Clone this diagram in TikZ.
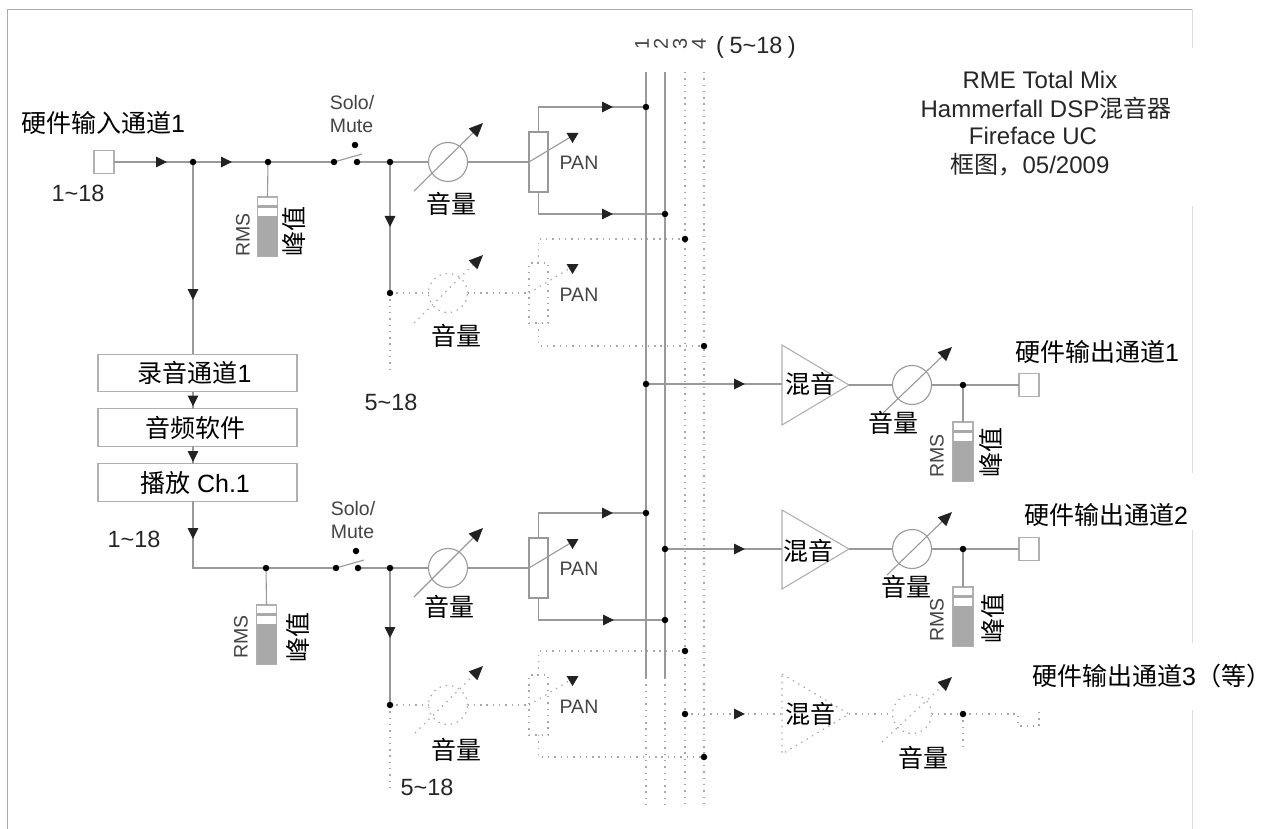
\documentclass[tikz,border=0pt]{standalone}
\usepackage{fontspec}
\setmainfont{Liberation Sans}
\newfontfamily\cjk{Noto Sans CJK SC}
\usetikzlibrary{arrows.meta,decorations.markings,calc}
\pgfdeclarelayer{top}
\pgfsetlayers{main,top}
\definecolor{wiregray}{HTML}{999999}
\definecolor{dotgray}{HTML}{A8A8A8}
\definecolor{boxgray}{HTML}{B0B0B0}
\definecolor{framegray}{HTML}{ABABAB}
\definecolor{framelight}{HTML}{DDDDDD}
\definecolor{metergray}{HTML}{A9A9A9}
\definecolor{labelgray}{HTML}{444444}
\definecolor{tipdark}{HTML}{222222}
\tikzset{
  wire/.style={draw=wiregray,line width=1.1pt},
  dotwire/.style={draw=dotgray,line width=1.2pt,dash pattern=on 1.4pt off 4.9pt},
  jdot/.style={circle,fill=black,inner sep=0pt,outer sep=0pt,minimum size=6.5pt},
  midtip/.style={postaction={decorate,decoration={markings,mark=at position #1 with {\arrow{Triangle[length=11pt,width=10.5pt,color=tipdark]}}}}},
  dialtip/.style={-{Triangle[length=14pt,width=12pt,color=tipdark]}},
  portbox/.style={draw=boxgray,line width=1.1pt,fill=white,minimum width=20pt,minimum height=23pt,inner sep=0pt,outer sep=0pt},
  procbox/.style={draw=boxgray,line width=1.1pt,fill=white,minimum width=199pt,minimum height=37.5pt,inner sep=0pt,outer sep=0pt,font=\fontsize{25}{25}\selectfont},
  volring/.style={circle,minimum size=39pt,inner sep=0pt,outer sep=0pt},
  panbox/.style={minimum width=19pt,minimum height=60pt,inner sep=0pt,outer sep=0pt},
  meterbox/.style={draw=boxgray,line width=1.1pt,fill=white,minimum width=20pt,minimum height=59pt,inner sep=0pt,outer sep=0pt,anchor=north},
  cjklabel/.style={inner sep=0pt,font=\fontsize{25}{25}\selectfont\cjk,text=black},
  txtlabel/.style={inner sep=0pt,font=\fontsize{23.5}{24}\selectfont,text=black!85},
  smalllabel/.style={inner sep=0pt,font=\fontsize{19.5}{24}\selectfont,text=labelgray,align=left},
  titlelabel/.style={inner sep=0pt,font=\fontsize{24}{28}\selectfont,text=black!85},
}
% name, centre x, centre y, wire style, dial start offset, dial end offset
\newcommand{\volknob}[6]{%
  \node[volring,#4] (#1) at (#2,#3) {};
  \coordinate (#1s) at ($(#1.center)+(#5)$);
  \coordinate (#1e) at ($(#1.center)+(#6)$);
  \draw[#4,dialtip] (#1s) -- (#1e);}
% name, centre x, centre y, wire style
\newcommand{\panpot}[4]{%
  \node[panbox,#4] (#1) at (#2,#3) {};
  \coordinate (#1w) at ($(#1.center)+(32,-25)$);
  \draw[#4] (#1.west) -- (#1w);
  \coordinate (#1a) at ($(#1.center)+(28,-29)$);
  \coordinate (#1b) at ($(#1.center)+(40,-29)$);
  \coordinate (#1c) at ($(#1.center)+(34,-19)$);
  \fill[tipdark] (#1a) -- (#1b) -- (#1c) -- cycle;}
% name, centre x, top y
\newcommand{\levelmeter}[3]{%
  \node[meterbox] (#1) at (#2,#3) {};
  \fill[metergray] ($(#1.north west)+(0,8)$) rectangle ($(#1.north east)+(0,11)$);
  \fill[metergray] ($(#1.north west)+(0,19)$) rectangle (#1.south east);}
\begin{document}
\begin{tikzpicture}[x=1pt,y=-1pt]
\useasboundingbox (0,0) rectangle (1269,829);
\fill[white] (0,0) rectangle (1269,829);

% frame
\coordinate (fbl) at (7.5,829); \coordinate (ftl) at (7.5,9.5); \coordinate (ftr) at (1192,9.5);
\coordinate (fr1) at (1192,48); \coordinate (fr2) at (1192,206); \coordinate (fr3) at (1192,473);
\coordinate (fr4) at (1192,530); \coordinate (fr5) at (1192,643); \coordinate (fr6) at (1192,710); \coordinate (fr7) at (1192,829);
\draw[framegray,line width=1.3pt] (fbl) -- (ftl) -- (ftr);
\draw[framelight,line width=1pt] (ftr) -- (fr1) (fr2) -- (fr3) (fr4) -- (fr5) (fr6) -- (fr7);

% bus
\foreach \n/\x in {1/646,2/665}{
  \coordinate (bus\n t) at (\x,72); \coordinate (bus\n m) at (\x,678); \coordinate (bus\n b) at (\x,807);
  \draw[wire] (bus\n t) -- (bus\n m);
  \draw[dotwire] (bus\n m) -- (bus\n b);}
\foreach \n/\x in {3/685,4/704}{
  \coordinate (bus\n t) at (\x,72); \coordinate (bus\n b) at (\x,807);
  \draw[dotwire] (bus\n t) -- (bus\n b);}
\foreach \n/\x in {1/642,2/661,3/680,4/699}{
  \node[inner sep=0pt,rotate=90,font=\fontsize{20}{20}\selectfont,text=labelgray] (busno\n) at (\x,44) {\n};}
\node[txtlabel] (busmore) at (756,47) {(\hspace{5.5pt}5\textasciitilde18\hspace{5.5pt})};

% junctions
\begin{pgfonlayer}{top}
\foreach \nm/\x/\y in {j1/193/162,j2/268/162,sa/334/162,sb/357/162,sc/355/145,j3/390/162,j4/390/293,
  j5/266/568,ta/336/568,tb/358/568,tc/356/551,j6/390/568,j7/390/705,
  b1/646/107,b2/665/214,b3/685/239,b4/704/346,b5/646/513,b6/665/620,b7/685/651,b8/704/757,
  m1/646/384,m2/665/549,m3/685/714,o1/963/385,o2/963/549,o3/963/714}{
  \node[jdot] (\nm) at (\x,\y) {};}
\end{pgfonlayer}

% input
\node[portbox] (inport) at (104,162) {};
\node[cjklabel] (inlabel) at (103,123) {硬件输入通道{\fontspec{Liberation Sans}1}};
\node[txtlabel] (inrange) at (78,193) {1\textasciitilde18};
\draw[wire,midtip=53pt] (inport.east) -- (j1.center);
\draw[wire,midtip=39pt] (j1.center) -- (j2.center);
\draw[wire] (j2.center) -- (sa.center);
\coordinate (sarm) at (362,154);
\draw[wire] (sa.center) -- (sarm);
\draw[wire] (sb.center) -- (j3.center);
\node[smalllabel] (solo1) at (352,114) {Solo/\\[-0.1pt]Mute};

% meter 1
\levelmeter{mt1}{267.5}{197}
\draw[wire] (j2.center) -- (mt1.north);
\node[smalllabel,rotate=90] (rms1) at (243,235) {RMS};
\node[cjklabel,rotate=90] (pk1) at (294,232) {峰值};

% upper strip
\volknob{v1}{448}{162}{wire}{-34,29}{35,-39}
\panpot{p1}{538.5}{162}{wire}
\draw[wire] (j3.center) -- (v1.west);
\draw[wire] (v1.east) -- (p1.west);
\node[cjklabel] (v1l) at (451,204) {音量};
\node[smalllabel] (p1l) at (579,163) {PAN};
\draw[wire,midtip=99.5pt] (p1.north) |- (b1.center);
\draw[wire,midtip=96.5pt] (p1.south) |- (b2.center);

% upper dotted strip
\draw[wire,midtip=65pt] (j3.center) -- (j4.center);
\volknob{v2}{448}{293}{dotwire}{-34,30}{35,-38}
\panpot{p2}{538.5}{293}{dotwire}
\draw[dotwire] (j4.center) -- (v2.west);
\draw[dotwire] (v2.east) -- (p2.west);
\node[cjklabel] (v2l) at (456,336) {音量};
\node[smalllabel] (p2l) at (579,295) {PAN};
\draw[dotwire] (p2.north) |- (b3.center);
\draw[dotwire] (p2.south) |- (b4.center);
\coordinate (d1end) at (390,370);
\draw[dotwire] (j4.center) -- (d1end);
\node[txtlabel] (r1) at (391,402) {5\textasciitilde18};

% recording chain
\node[procbox] (rec) at (197.5,373) {\hspace*{-6pt}{\cjk 录音通道}1};
\node[procbox] (sw) at (197.5,427.5) {\hspace*{-5pt}{\cjk 音频软件}};
\node[procbox] (play) at (197.5,482.5) {\hspace*{-5pt}{\cjk 播放} Ch.1};
\coordinate (recin) at (193,354); \coordinate (recout) at (193,391.5);
\coordinate (swin) at (193,409); \coordinate (swout) at (193,446);
\coordinate (playin) at (193,464); \coordinate (playout) at (193,501);
\draw[wire,midtip=138pt] (j1.center) -- (recin);
\draw[wire,midtip=15pt] (recout) -- (swin);
\draw[wire,midtip=16pt] (swout) -- (playin);
\draw[wire,midtip=38pt] (playout) |- (j5.center);
\node[txtlabel] (r2) at (134,539) {1\textasciitilde18};

% lower strip
\draw[wire] (j5.center) -- (ta.center);
\coordinate (tarm) at (364,560);
\draw[wire] (ta.center) -- (tarm);
\draw[wire] (tb.center) -- (j6.center);
\node[smalllabel] (solo2) at (353,520) {Solo/\\[-0.1pt]Mute};
\levelmeter{mt2}{266.5}{605}
\draw[wire] (j5.center) -- (mt2.north);
\node[smalllabel,rotate=90] (rms2) at (241,637) {RMS};
\node[cjklabel,rotate=90] (pk2) at (298,637) {峰值};
\volknob{v3}{448}{568}{wire}{-34,29}{35,-40}
\panpot{p3}{538.5}{568}{wire}
\draw[wire] (j6.center) -- (v3.west);
\draw[wire] (v3.east) -- (p3.west);
\node[cjklabel] (v3l) at (449,607) {音量};
\node[smalllabel] (p3l) at (579,569) {PAN};
\draw[wire,midtip=99.5pt] (p3.north) |- (b5.center);
\draw[wire,midtip=97.5pt] (p3.south) |- (b6.center);

% lower dotted strip
\draw[wire,midtip=70pt] (j6.center) -- (j7.center);
\volknob{v4}{448}{705}{dotwire}{-33,28}{35,-39}
\panpot{p4}{538.5}{705}{dotwire}
\draw[dotwire] (j7.center) -- (v4.west);
\draw[dotwire] (v4.east) -- (p4.west);
\node[cjklabel] (v4l) at (456,750) {音量};
\node[smalllabel] (p4l) at (579,707) {PAN};
\draw[dotwire] (p4.north) |- (b7.center);
\draw[dotwire] (p4.south) |- (b8.center);
\coordinate (d2end) at (390,787);
\draw[dotwire] (j7.center) -- (d2end);
\node[txtlabel] (r3) at (427,787) {5\textasciitilde18};

% mixers
\coordinate (mx1in) at (782,384); \coordinate (mx1a) at (782,345); \coordinate (mx1b) at (782,425); \coordinate (mx1out) at (849,385);
\coordinate (mx2in) at (782,549); \coordinate (mx2a) at (782,510); \coordinate (mx2b) at (782,589); \coordinate (mx2out) at (849,549);
\coordinate (mx3in) at (782,714); \coordinate (mx3a) at (782,674); \coordinate (mx3b) at (782,754); \coordinate (mx3out) at (849,714);
\draw[draw=boxgray,line width=1.1pt,line join=miter] (mx1a) -- (mx1out) -- (mx1b) -- cycle;
\draw[draw=boxgray,line width=1.1pt,line join=miter] (mx2a) -- (mx2out) -- (mx2b) -- cycle;
\draw[dotwire] (mx3a) -- (mx3out) -- (mx3b) -- cycle;
\node[cjklabel] (mx1) at (810,384) {混音};
\node[cjklabel] (mx2) at (808,551) {混音};
\node[cjklabel] (mx3) at (810,714) {混音};
\draw[wire,midtip=99pt] (m1.center) -- (mx1in);
\draw[wire,midtip=80pt] (m2.center) -- (mx2in);
\draw[dotwire,midtip=60pt] (m3.center) -- (mx3in);

% output 1
\volknob{v5}{912}{385}{wire}{-29,28}{40,-38}
\draw[wire] (mx1out) -- (v5.west);
\draw[wire] (v5.east) -- (o1.center);
\node[portbox] (out1) at (1029,385) {};
\draw[wire] (o1.center) -- (out1.west);
\node[cjklabel] (v5l) at (893,423) {音量};
\levelmeter{mt3}{963}{422}
\draw[wire] (o1.center) -- (mt3.north);
\node[smalllabel,rotate=90] (rms3) at (937,456) {RMS};
\node[cjklabel,rotate=90] (pk3) at (991,452) {峰值};
\node[cjklabel] (out1l) at (1097,352) {硬件输出通道{\fontspec{Liberation Sans}1}};

% output 2
\volknob{v6}{912}{549}{wire}{-25,26}{40,-37}
\draw[wire] (mx2out) -- (v6.west);
\draw[wire] (v6.east) -- (o2.center);
\node[portbox] (out2) at (1029,549) {};
\draw[wire] (o2.center) -- (out2.west);
\node[cjklabel] (v6l) at (906,587) {音量};
\levelmeter{mt4}{963}{587}
\draw[wire] (o2.center) -- (mt4.north);
\node[smalllabel,rotate=90] (rms4) at (937,620) {RMS};
\node[cjklabel,rotate=90] (pk4) at (993,618) {峰值};
\node[cjklabel] (out2l) at (1106,515) {硬件输出通道{\fontspec{Liberation Sans}2}};

% output 3
\volknob{v7}{912}{714}{dotwire}{-30,28}{40,-37}
\draw[dotwire] (mx3out) -- (v7.west);
\draw[dotwire] (v7.east) -- (o3.center);
\coordinate (out3a) at (1018,714); \coordinate (out3b) at (1018,726); \coordinate (out3c) at (1039,726); \coordinate (out3d) at (1039,709);
\draw[dotwire] (o3.center) -- (out3a) -- (out3b) -- (out3c) -- (out3d);
\coordinate (o3end) at (963,750);
\draw[dotwire] (o3.center) -- (o3end);
\node[cjklabel] (v7l) at (923,758) {音量};
\node[cjklabel,anchor=west] (out3l) at (1032,676) {硬件输出通道{\fontspec{Liberation Sans}3}（等）};

% title
\node[titlelabel] (title1) at (1040,80) {RME Total Mix};
\node[titlelabel] (title2) at (1046,108) {Hammerfall DSP{\cjk 混音器}};
\node[titlelabel] (title3) at (1033,136) {Fireface UC};
\node[titlelabel] (title4) at (1030,165) {{\cjk 框图，}05/2009};
\end{tikzpicture}
\end{document}
